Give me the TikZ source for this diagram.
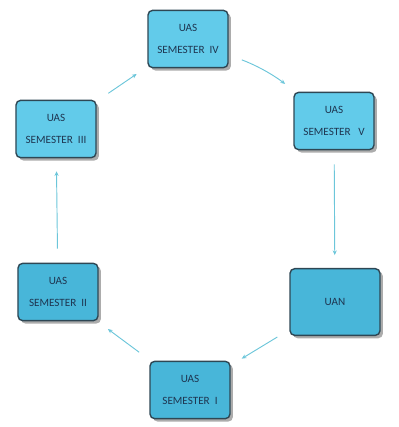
\documentclass[tikz,border=0pt]{standalone}
\usepackage{fontspec}
\setmainfont{Carlito}
\usetikzlibrary{arrows.meta,shadows}
\definecolor{boxtop}{HTML}{62CBEA}
\definecolor{boxlow}{HTML}{48B6D9}
\definecolor{boxrim}{HTML}{2E4754}
\definecolor{flowcol}{HTML}{6CC6DA}
\definecolor{txtcol}{HTML}{1E3550}

\begin{document}
\begin{tikzpicture}[x=0.03cm, y=-0.03cm,
		sembox/.style={rectangle, rounded corners=4pt, fill=boxtop, draw=boxrim, line width=1.2pt,
			minimum width=2.4cm, minimum height=1.72cm, align=center, text=txtcol, inner sep=1pt,
			font=\fontsize{9.5}{11}\selectfont,
			drop shadow={shadow xshift=2.5pt, shadow yshift=-2.5pt, opacity=0.5, fill=black!65}},
		flow/.style={draw=flowcol, line width=0.8pt, -{Stealth[length=4pt, width=3.5pt]},
			shorten <=12pt, shorten >=11pt}]
	\useasboundingbox (0,0) rectangle (398,427);
	
	\node[sembox] (s4) at (188,39) {UAS\\[8pt]SEMESTER\ \ IV};
	\node[sembox] (s5) at (334,121) {UAS\\[8pt]SEMESTER\ \ \ V};
	\node[sembox, fill=boxlow, minimum width=2.7cm, minimum height=2.0cm] (uan) at (335,302) {UAN};
	\node[sembox, fill=boxlow] (s1) at (190,390) {UAS\\[8pt]SEMESTER\ \ I};
	\node[sembox, fill=boxlow] (s2) at (58,292) {UAS\\[8pt]SEMESTER\ \ II};
	\node[sembox] (s3) at (56,129) {UAS\\[8pt]SEMESTER\ \ III};
	
	\draw[flow] (s3) -- (s4);
	\draw[flow] (s4) to[bend left=8] (s5);
	\draw[flow] (s5) -- (uan);
	\draw[flow] (uan) -- (s1);
	\draw[flow] (s1) -- (s2);
	\draw[flow] (s2) -- (s3);
\end{tikzpicture}
\end{document}
